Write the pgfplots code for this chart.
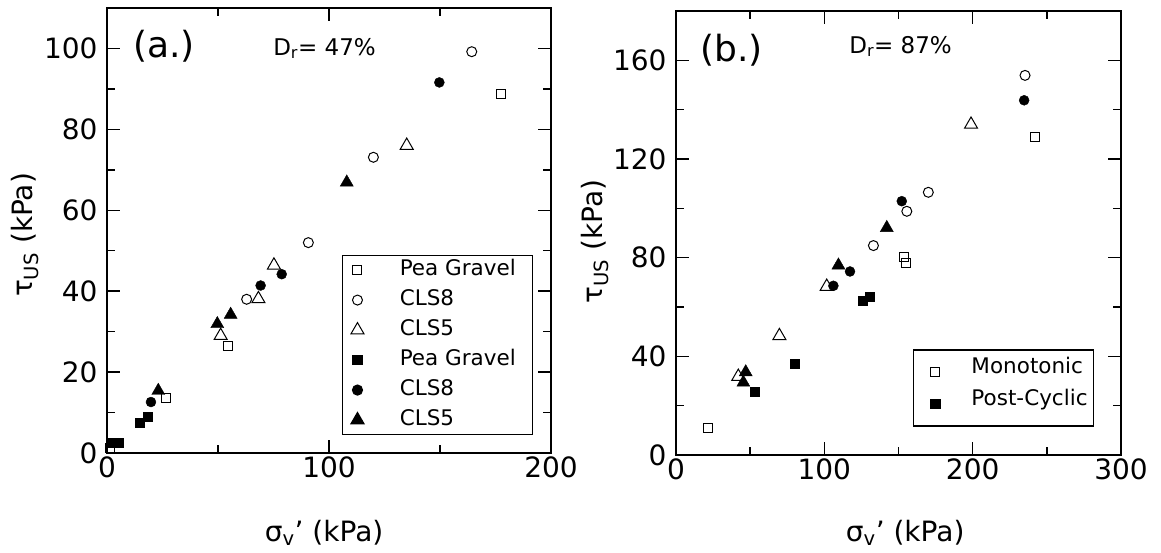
\documentclass[border=0pt]{standalone}
\usepackage{pgfplots}
\pgfplotsset{compat=1.18}
\usepackage{fontspec}
\setmainfont{DejaVu Sans}

\pgfplotsset{
  myaxis/.style={
    scale only axis, anchor=south west,
    tick align=inside,
    major tick length=13pt, minor tick length=8pt,
    axis line style={line width=1.5pt},
    every tick/.style={black, line width=1.4pt},
    /pgf/number format/assume math mode=true,
    tick label style={font=\fontsize{28}{32}\selectfont},
    yticklabel style={xshift=-6pt},
    label style={font=\fontsize{28}{32}\selectfont},
    clip=false,
    legend cell align=left,
  },
  psq/.style={only marks, black, mark=square, mark size=4.5pt, mark options={line width=1pt}},
  pci/.style={only marks, black, mark=o, mark size=5pt, mark options={line width=1pt}},
  ptr/.style={only marks, black, mark=triangle, mark size=7.5pt, mark options={line width=1pt}},
  fsq/.style={only marks, black, mark=square*, mark size=4.5pt},
  fci/.style={only marks, black, mark=*, mark size=5pt},
  ftr/.style={only marks, black, mark=triangle*, mark size=7.5pt},
  padimg/.style={legend image code/.code={\path[draw=none,fill=none] (-#1,0pt) -- (0pt,0pt); \draw[##1] plot coordinates {(0pt,0pt)};}},
}

\begin{document}
\begin{tikzpicture}
\useasboundingbox (0,0) rectangle (1161pt,552pt);

% ---------------- panel (a) ----------------
\begin{axis}[myaxis,
  at={(107pt,99pt)}, width=444pt, height=445pt,
  xmin=0, xmax=200, ymin=0, ymax=110,
  xtick={0,100,200}, minor xtick={50,150},
  ytick={0,20,...,100}, minor ytick={10,30,...,90},
  xlabel={σ\textsubscript{v}' (kPa)},
  ylabel={τ\textsubscript{US} (kPa)},
  xlabel style={at={(axis description cs:0.489,-0.18)}, anchor=center},
  ylabel style={at={(axis description cs:-0.185,0.49)}, anchor=center},
  legend style={at={(rel axis cs:0.529,0.445)}, anchor=north west,
    draw=black, line width=1.2pt, font=\fontsize{21.5}{25}\selectfont,
    inner xsep=6pt, inner ysep=2pt, row sep=5pt,
    nodes={inner xsep=11pt, inner ysep=2pt, text height=16pt, text depth=5pt},
    /tikz/every odd column/.append style={column sep=24.8pt}},
]
\addplot[psq, padimg=9pt] coordinates {(1.4,1.2) (26.4,13.6) (54.3,26.4) (177.5,88.8)};
\addlegendentry{Pea Gravel}
\addplot[pci, padimg=9pt] coordinates {(62.9,38.0) (90.7,52.0) (120,73.1) (164.3,99.2)};
\addlegendentry{CLS8}
\addplot[ptr, padimg=9pt] coordinates {(51.2,29.0) (68.2,38.1) (75.2,46.4) (135,76.0)};
\addlegendentry{CLS5}
\addplot[fsq, padimg=9pt] coordinates {(2.1,2.6) (5.1,2.6) (14.9,7.6) (18.3,9.0)};
\addlegendentry{Pea Gravel}
\addplot[fci, padimg=9pt] coordinates {(19.8,12.6) (69.2,41.4) (78.7,44.2) (149.7,91.6)};
\addlegendentry{CLS8}
\addplot[ftr, padimg=9pt] coordinates {(23.1,15.4) (49.7,31.9) (55.7,34.2) (108,66.9)};
\addlegendentry{CLS5}
\node[anchor=base west, font=\fontsize{36}{40}\selectfont, inner sep=0pt] at (rel axis cs:0.0586,0.888) {(a.)};
\node[anchor=base west, font=\fontsize{23}{26}\selectfont, inner sep=0pt] at (rel axis cs:0.374,0.894) {D\textsubscript{r}= 47\%};
\end{axis}

% ---------------- panel (b) ----------------
\begin{axis}[myaxis,
  at={(676pt,97pt)}, width=445pt, height=444pt,
  xmin=0, xmax=300, ymin=0, ymax=180,
  xtick={0,100,200,300}, minor xtick={50,150,250},
  ytick={0,40,...,160}, minor ytick={20,60,100,140},
  xlabel={σ\textsubscript{v}' (kPa)},
  ylabel={τ\textsubscript{US} (kPa)},
  xlabel style={at={(axis description cs:0.515,-0.176)}, anchor=center},
  ylabel style={at={(axis description cs:-0.182,0.48)}, anchor=center},
  legend style={at={(rel axis cs:0.533,0.238)}, anchor=north west,
    draw=black, line width=1.2pt, font=\fontsize{21.5}{25}\selectfont,
    inner xsep=6pt, inner ysep=6pt, row sep=0pt,
    nodes={inner xsep=0pt, inner ysep=2pt, text height=16pt, text depth=12pt},
    /tikz/every odd column/.append style={column sep=31.5pt}},
]
\addplot[psq, padimg=15.7pt] coordinates {(21.8,11.1) (153.7,80.1) (155.1,77.8) (242.1,128.9)};
\addlegendentry{Monotonic}
\addplot[fsq, padimg=15.7pt] coordinates {(53.3,25.5) (80.2,37.0) (125.6,62.5) (130.8,64.3)};
\addlegendentry{Post-Cyclic}
\addplot[pci, forget plot] coordinates {(133.1,84.9) (155.6,98.8) (170.1,106.5) (235.3,153.9)};
\addplot[ptr, forget plot] coordinates {(42,31.8) (69.7,48.3) (101.6,68.3) (198.9,134)};
\addplot[fci, forget plot] coordinates {(106.1,68.6) (117.3,74.4) (152.2,102.9) (234.7,143.8)};
\addplot[ftr, forget plot] coordinates {(45.4,29.4) (47,33.6) (109.5,76.9) (142.1,92.1)};
\node[anchor=base west, font=\fontsize{36}{40}\selectfont, inner sep=0pt] at (rel axis cs:0.054,0.886) {(b.)};
\node[anchor=base west, font=\fontsize{23}{26}\selectfont, inner sep=0pt] at (rel axis cs:0.389,0.905) {D\textsubscript{r}= 87\%};
\end{axis}
\end{tikzpicture}
\end{document}
